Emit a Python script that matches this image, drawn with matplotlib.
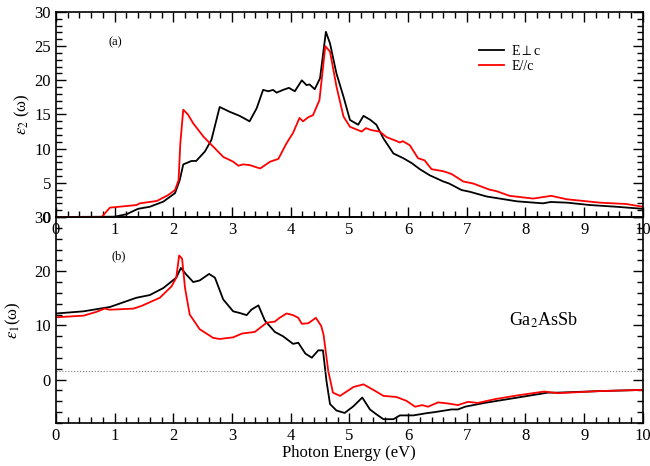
import numpy as np
import matplotlib
matplotlib.use('Agg')
import matplotlib.pyplot as plt
from matplotlib.ticker import MultipleLocator

plt.rcParams['font.family'] = ['Liberation Serif', 'DejaVu Serif']
plt.rcParams['mathtext.fontset'] = 'stix'

# Imaginary part, E perpendicular to c
e2_perp_x = [0.0, 1.0, 1.2, 1.4, 1.6, 1.83, 2.03, 2.11, 2.17, 2.31, 2.39, 2.54, 2.65, 2.79,
             2.96, 3.13, 3.3, 3.42, 3.53, 3.62, 3.70, 3.76, 3.87, 3.97, 4.07, 4.19, 4.27,
             4.32, 4.41, 4.50, 4.60, 4.67, 4.78, 4.90, 5.01, 5.15, 5.24, 5.36, 5.46, 5.58,
             5.75, 5.92, 6.06, 6.2, 6.37, 6.6, 6.7, 6.91, 7.05, 7.34, 7.56, 7.85, 8.3, 8.43,
             8.71, 9.1, 9.55, 10.0]
e2_perp_y = [0.0, 0.05, 0.4, 1.2, 1.5, 2.25, 3.5, 5.4, 7.7, 8.2, 8.2, 9.6, 11.3, 16.1,
             15.4, 14.8, 14.0, 15.9, 18.6, 18.4, 18.6, 18.2, 18.6, 18.9, 18.4, 20.0, 19.3,
             19.4, 18.7, 20.3, 27.1, 25.4, 21.0, 17.6, 14.2, 13.5, 14.8, 14.2, 13.5, 11.5,
             9.3, 8.6, 7.9, 7.0, 6.1, 5.2, 4.9, 3.95, 3.7, 3.0, 2.7, 2.3, 2.0, 2.2,
             2.1, 1.75, 1.5, 1.2]

# Imaginary part, E parallel to c
e2_par_x = [0.0, 0.78, 0.92, 1.37, 1.43, 1.72, 1.91, 2.03, 2.09, 2.12, 2.17, 2.25, 2.34,
            2.51, 2.68, 2.85, 3.02, 3.11, 3.19, 3.3, 3.48, 3.65, 3.79, 3.93, 4.04, 4.15,
            4.21, 4.30, 4.38, 4.49, 4.59, 4.67, 4.78, 4.90, 5.01, 5.21, 5.28, 5.38, 5.52,
            5.63, 5.78, 5.86, 5.91, 6.03, 6.17, 6.28, 6.4, 6.6, 6.74, 6.94, 7.11, 7.39,
            7.5, 7.73, 8.13, 8.44, 8.7, 9.27, 9.72, 10.0]
e2_par_y = [0.0, 0.0, 1.37, 1.75, 2.0, 2.35, 3.2, 3.95, 5.4, 10.8, 15.7, 15.0, 13.7,
            11.8, 10.3, 8.8, 8.1, 7.5, 7.7, 7.6, 7.1, 8.1, 8.5, 10.8, 12.3, 14.5,
            14.0, 14.6, 14.9, 17.1, 25.0, 24.2, 19.1, 14.7, 13.2, 12.5, 13.0, 12.7, 12.5,
            11.7, 11.2, 10.9, 11.1, 10.5, 8.6, 8.3, 7.0, 6.7, 6.3, 5.2, 4.9, 4.0,
            3.8, 3.1, 2.7, 3.1, 2.6, 2.1, 1.9, 1.5]

# Real part, E perpendicular to c
e1_perp_x = [0.0, 0.47, 0.92, 1.37, 1.6, 1.83, 2.05, 2.13, 2.22, 2.34, 2.45, 2.61, 2.71,
             2.85, 3.02, 3.13, 3.25, 3.33, 3.45, 3.56, 3.73, 3.87, 4.04, 4.13, 4.25, 4.36,
             4.47, 4.55, 4.61, 4.67, 4.78, 4.92, 5.07, 5.22, 5.35, 5.46, 5.58, 5.75, 5.86,
             6.09, 6.31, 6.45, 6.74, 6.85, 6.97, 7.3, 7.87, 8.38, 8.55, 9.3, 10.0]
e1_perp_y = [12.2, 12.6, 13.4, 15.1, 15.6, 16.9, 18.8, 20.6, 19.4, 18.0, 18.3, 19.5, 18.8,
             14.8, 12.6, 12.3, 11.9, 12.9, 13.7, 10.9, 8.8, 8.0, 6.6, 6.8, 4.8, 4.05,
             5.4, 5.4, -0.25, -4.5, -5.7, -6.15, -4.9, -3.3, -5.5, -6.4, -7.3, -7.3, -6.6,
             -6.6, -6.2, -6.0, -5.5, -5.5, -5.0, -4.3, -3.3, -2.4, -2.4, -2.1, -1.9]

# Real part, E parallel to c
e1_par_x = [0.0, 0.47, 0.69, 0.83, 0.92, 1.32, 1.46, 1.77, 1.97, 2.05, 2.10, 2.15, 2.2,
            2.28, 2.45, 2.68, 2.79, 3.02, 3.17, 3.39, 3.59, 3.73, 3.81, 3.93, 4.04, 4.13,
            4.19, 4.3, 4.43, 4.52, 4.56, 4.64, 4.72, 4.84, 5.07, 5.24, 5.41, 5.58, 5.8,
            5.97, 6.12, 6.24, 6.34, 6.51, 6.68, 6.85, 7.02, 7.19, 7.48, 7.87, 8.32, 8.55,
            9.3, 10.0]
e1_par_y = [11.5, 11.8, 12.5, 13.1, 12.9, 13.1, 13.6, 15.1, 17.2, 18.8, 22.9, 22.3, 16.9,
            12.0, 9.3, 7.7, 7.5, 7.8, 8.5, 8.8, 10.5, 10.7, 11.4, 12.2, 11.9, 11.4,
            10.3, 10.4, 11.4, 9.9, 8.3, 1.6, -2.4, -3.0, -1.36, -0.87, -1.9, -3.0, -3.2,
            -3.9, -5.0, -4.7, -5.0, -4.2, -4.4, -4.7, -4.1, -4.3, -3.6, -2.9, -2.2, -2.5,
            -2.1, -1.9]

ref_level = 1.6

fig = plt.figure(figsize=(6.5, 4.66), dpi=100)
ax_top = fig.add_axes([0.086, 0.5343, 0.903, 0.4400])
ax_bot = fig.add_axes([0.086, 0.0923, 0.903, 0.4420])

# (a) imaginary part
ax_top.plot(e2_perp_x, e2_perp_y, color='black', lw=1.3, label=r'E$\perp$c')
ax_top.plot(e2_par_x, e2_par_y, color='red', lw=1.3, label='E//c')
ax_top.set_xlim(0, 10)
ax_top.set_ylim(0, 30)
ax_top.xaxis.set_major_locator(MultipleLocator(1))
ax_top.xaxis.set_minor_locator(MultipleLocator(0.2))
ax_top.yaxis.set_major_locator(MultipleLocator(5))
ax_top.yaxis.set_minor_locator(MultipleLocator(1))
ax_top.tick_params(which='both', direction='in', top=True, right=True, labelsize=12)
ax_top.tick_params(which='major', length=7, width=1)
ax_top.tick_params(which='minor', length=4, width=1)
ax_top.set_ylabel(r'$\varepsilon_2$ (ω)', fontsize=12, labelpad=2)
ax_top.text(0.9, 25.5, '(a)', fontsize=9, ha='left', va='center')
ax_top.legend(loc='upper left', bbox_to_anchor=(0.7, 0.905), frameon=False, fontsize=10,
              handlelength=1.8, handletextpad=0.5, labelspacing=0.15)

# (b) real part
ax_bot.plot(e1_perp_x, e1_perp_y, color='black', lw=1.3)
ax_bot.plot(e1_par_x, e1_par_y, color='red', lw=1.3)
ax_bot.axhline(ref_level, color='gray', lw=0.8, ls=':')
ax_bot.set_xlim(0, 10)
ax_bot.set_ylim(-8, 30)
ax_bot.set_yticks([0, 10, 20, 30])
ax_bot.xaxis.set_major_locator(MultipleLocator(1))
ax_bot.xaxis.set_minor_locator(MultipleLocator(0.2))
ax_bot.yaxis.set_minor_locator(MultipleLocator(2))
ax_bot.tick_params(which='both', direction='in', right=True, labelsize=12)
ax_bot.tick_params(which='major', length=7, width=1)
ax_bot.tick_params(which='minor', length=4, width=1)
ax_bot.set_ylabel(r'$\varepsilon_1$(ω)', fontsize=12, labelpad=8)
ax_bot.set_xlabel('Photon Energy (eV)', fontsize=12, labelpad=1)
ax_bot.text(0.95, 22.7, '(b)', fontsize=9, ha='left', va='center')
ax_bot.text(8.3, 11, r'Ga$_2$AsSb', fontsize=13, ha='center', va='center')

for ax in (ax_top, ax_bot):
    for sp in ax.spines.values():
        sp.set_linewidth(1.2)
ax_top.set_zorder(3)
ax_top.patch.set_alpha(0)

fig.savefig('out.png', dpi=100)
